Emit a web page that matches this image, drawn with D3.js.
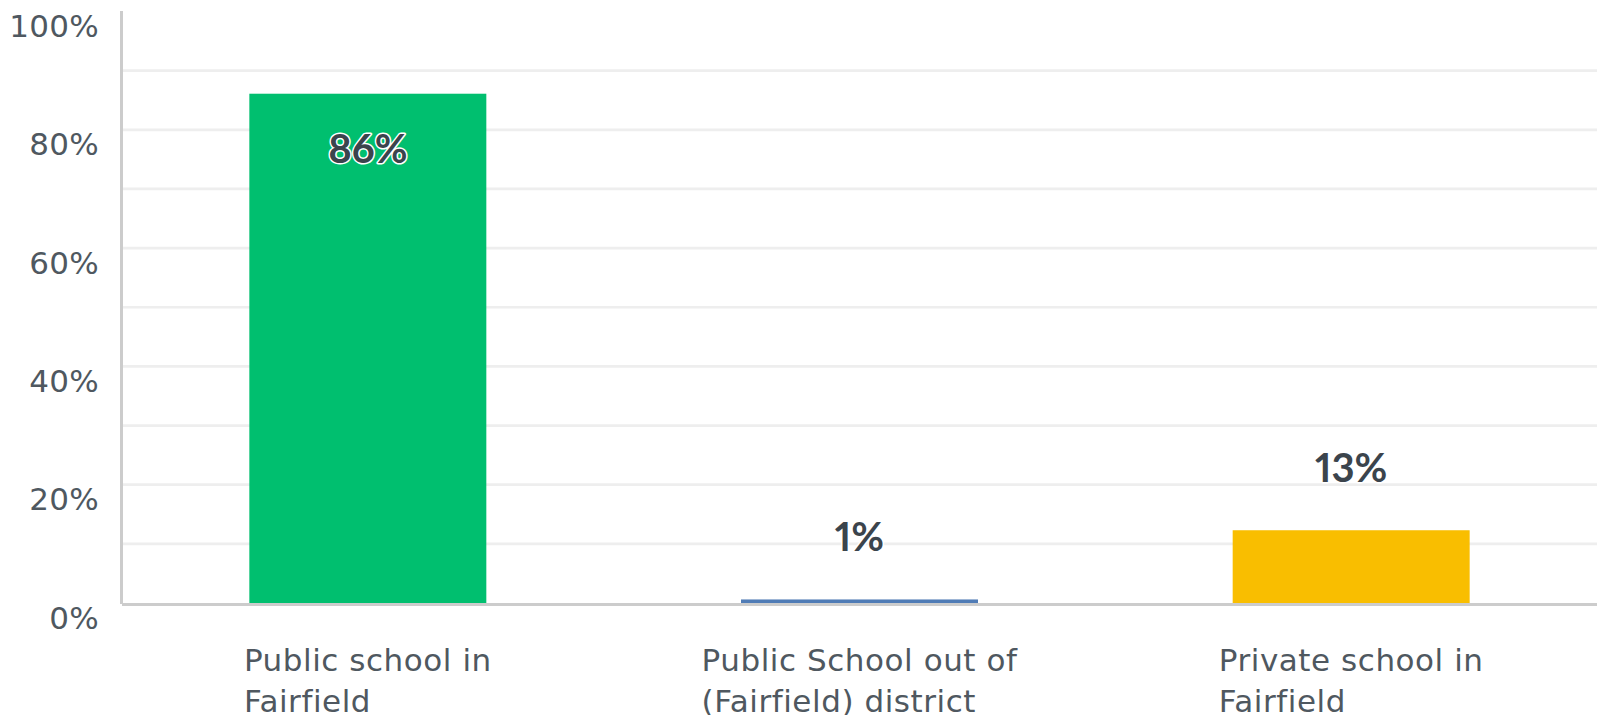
<!DOCTYPE html>
<html>
<head>
<meta charset="utf-8">
<script src="https://cdn.jsdelivr.net/npm/d3@7"></script>
<style>
  html, body { margin: 0; padding: 0; background: #ffffff; }
  svg { display: block; }
  .vlabel { font-variant-numeric: proportional-nums; font-feature-settings: "pnum" 1; }
</style>
</head>
<body>
<svg id="chart" width="1602" height="715"></svg>
<script>
// ---- data ----
const categories = [
  ["Public school in", "Fairfield"],
  ["Public School out of", "(Fairfield) district"],
  ["Private school in", "Fairfield"]
];
const values = [86.1, 0.6, 12.3];
const valueLabels = ["86%", "1%", "13%"];
const barColors = ["#00bf6f", "#507cb6", "#f9be00"];
const tickValues = [0, 20, 40, 60, 80, 100];
const gridValues = [10, 20, 30, 40, 50, 60, 70, 80, 90];

// ---- layout ----
const svg = d3.select("#chart");
const plotLeft = 122, plotRight = 1597, plotTop = 11.5, plotBottom = 603;
const textColor = "#4f5860";
const font = "'DejaVu Sans', sans-serif";

const x = d3.scaleBand()
  .domain(d3.range(categories.length))
  .range([plotLeft, plotRight])
  .paddingInner(0.518)
  .paddingOuter(0.259);

const y = d3.scaleLinear().domain([0, 100]).range([plotBottom, plotTop]);

// gridlines
svg.append("g").selectAll("line")
  .data(gridValues)
  .join("line")
  .attr("x1", plotLeft).attr("x2", plotRight)
  .attr("y1", d => y(d)).attr("y2", d => y(d))
  .attr("stroke", "#eeeeee").attr("stroke-width", 2.7);

// y tick labels
svg.append("g").selectAll("text")
  .data(tickValues)
  .join("text")
  .attr("x", 99)
  .attr("y", d => y(d) + 25.5)
  .attr("text-anchor", "end")
  .attr("font-family", font)
  .attr("font-size", 31)
  .attr("letter-spacing", 0.3)
  .attr("fill", textColor)
  .text(d => d + "%");

// bars
svg.append("g").selectAll("rect")
  .data(values)
  .join("rect")
  .attr("x", (d, i) => x(i))
  .attr("width", x.bandwidth())
  .attr("y", d => y(d))
  .attr("height", d => plotBottom - y(d))
  .attr("fill", (d, i) => barColors[i]);

// axes lines
svg.append("line")
  .attr("x1", 121.5).attr("x2", 121.5)
  .attr("y1", 11).attr("y2", 604)
  .attr("stroke", "#cccccc").attr("stroke-width", 3);
svg.append("line")
  .attr("x1", 122).attr("x2", plotRight)
  .attr("y1", 604.5).attr("y2", 604.5)
  .attr("stroke", "#cccccc").attr("stroke-width", 3);

// value labels
svg.append("g").selectAll("text")
  .data(values)
  .join("text")
  .attr("class", "vlabel")
  .attr("x", (d, i) => x(i) + x.bandwidth() / 2)
  .attr("y", d => d > 50 ? y(d) + 69 : y(d) - 48.5)
  .attr("text-anchor", "middle")
  .attr("font-family", "Lato, 'Liberation Sans', sans-serif")
  .attr("font-weight", "bold")
  .attr("font-size", 40)
  .attr("fill", "#3b444c")
  .attr("stroke", "#ffffff")
  .attr("stroke-width", 3)
  .attr("paint-order", "stroke")
  .attr("stroke-linejoin", "round")
  .text((d, i) => valueLabels[i]);

// category labels (lines left-aligned, block centered on bar)
const catG = svg.append("g");
categories.forEach((lines, i) => {
  const t = catG.append("text")
    .attr("font-family", font)
    .attr("font-size", 31)
    .attr("letter-spacing", 0.55)
    .attr("fill", textColor);
  lines.forEach((ln, j) => {
    t.append("tspan").attr("y", 670.7 + j * 41).text(ln);
  });
  const w = d3.max(t.selectAll("tspan").nodes(), n => n.getComputedTextLength());
  const cx = x(i) + x.bandwidth() / 2;
  t.selectAll("tspan").attr("x", cx - w / 2);
});
</script>
</body>
</html>
